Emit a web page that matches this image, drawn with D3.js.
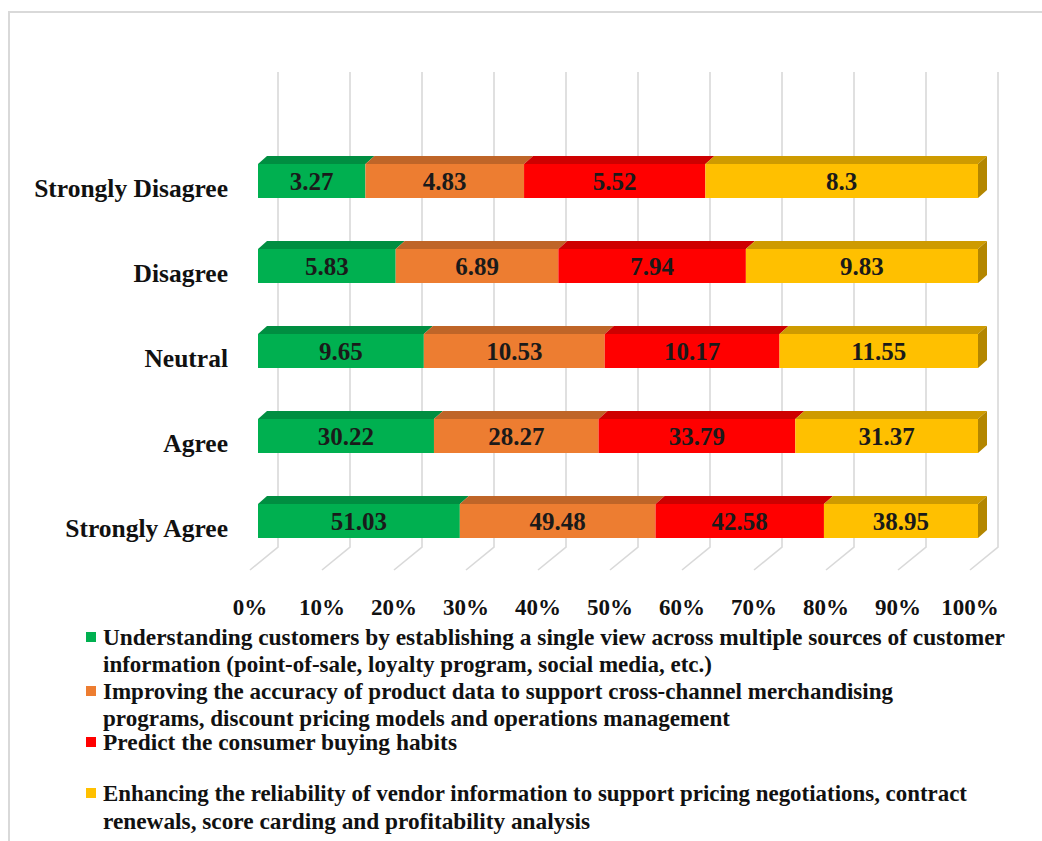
<!DOCTYPE html>
<html>
<head>
<meta charset="utf-8">
<script src="https://cdn.jsdelivr.net/npm/d3@7"></script>
<style>
  html, body { margin: 0; padding: 0; background: #fff; }
  svg { display: block; }
  text { font-family: "Liberation Serif", "Times New Roman", serif; font-weight: bold; }
</style>
</head>
<body>
<svg id="chart" width="1042" height="841"></svg>
<script>
// Response categories (top to bottom)
const categories = ["Strongly Disagree", "Disagree", "Neutral", "Agree", "Strongly Agree"];

// Series values per category (percent of respondents)
const understanding = [3.27, 5.83, 9.65, 30.22, 51.03];
const improving     = [4.83, 6.89, 10.53, 28.27, 49.48];
const predict       = [5.52, 7.94, 10.17, 33.79, 42.58];
const enhancing     = [8.3, 9.83, 11.55, 31.37, 38.95];

const seriesKeys = ["understanding", "improving", "predict", "enhancing"];
const seriesColors = ["#00B050", "#ED7D31", "#FF0000", "#FFC000"];

// Legend entries, already broken into lines
const legendLines = [
  ["Understanding customers by establishing a single view across multiple sources of customer",
   "information (point-of-sale, loyalty program, social media, etc.)"],
  ["Improving the accuracy of product data to support cross-channel merchandising",
   "programs, discount pricing models and operations management"],
  ["Predict the consumer buying habits"],
  ["Enhancing the reliability of vendor information to support pricing negotiations, contract",
   "renewals, score carding and profitability analysis"]
];

// Axis tick labels
const tickValues = [0, 0.1, 0.2, 0.3, 0.4, 0.5, 0.6, 0.7, 0.8, 0.9, 1.0];
const tickLabels = ["0%", "10%", "20%", "30%", "40%", "50%", "60%", "70%", "80%", "90%", "100%"];

// ---- build table for the stack layout ----
const rows = categories.map((c, i) => ({
  category: c,
  understanding: understanding[i],
  improving: improving[i],
  predict: predict[i],
  enhancing: enhancing[i]
}));
const stacked = d3.stack().keys(seriesKeys).offset(d3.stackOffsetExpand)(rows);

const svg = d3.select("#chart");

// frame around the figure
svg.append("rect")
  .attr("x", 9).attr("y", 12).attr("width", 1040).attr("height", 840)
  .attr("fill", "#fff").attr("stroke", "#d9d9d9").attr("stroke-width", 2);

// ---- scales ----
// x: front edge of the floor; bars and back wall are shifted by the 3D depth
const x = d3.scaleLinear().domain([0, 1]).range([250, 970]);
const y = d3.scalePoint().domain(categories).range([181, 521]);
const barH = 34;
const wall = { dx: 28, dy: 23 };      // offset from floor front edge to back wall
const barShift = 8;                    // bar front face sits slightly behind the floor edge
const barDepth = { dx: 9, dy: 8 };     // visible depth of each bar
const wallTop = 72, wallBottom = 547, floorFront = 570;

// ---- back wall gridlines and floor lines ----
const grid = svg.append("g").attr("stroke", "#d9d9d9").attr("stroke-width", 1.6).attr("fill", "none");
grid.selectAll("path").data(tickValues).join("path")
  .attr("d", t => {
    const xb = x(t) + wall.dx;
    return `M${xb},${wallTop}L${xb},${wallBottom}L${x(t)},${floorFront}`;
  });

// ---- 3D bars ----
const bx = v => x(v) + barShift;
const barsG = svg.append("g");
categories.forEach((cat, ci) => {
  const yTop = y(cat) - barH / 2;
  const g = barsG.append("g");
  stacked.forEach((layer, si) => {
    const d = layer[ci];
    const x0 = bx(d[0]), x1 = bx(d[1]);
    const base = d3.color(seriesColors[si]);
    // top face
    g.append("path")
      .attr("d", `M${x0},${yTop}L${x0 + barDepth.dx},${yTop - barDepth.dy}L${x1 + barDepth.dx},${yTop - barDepth.dy}L${x1},${yTop}Z`)
      .attr("fill", base.darker(0.6).formatHex());
    // right end face on the last segment
    if (si === stacked.length - 1) {
      g.append("path")
        .attr("d", `M${x1},${yTop}L${x1 + barDepth.dx},${yTop - barDepth.dy}L${x1 + barDepth.dx},${yTop + barH - barDepth.dy}L${x1},${yTop + barH}Z`)
        .attr("fill", base.darker(1.0).formatHex());
    }
  });
  stacked.forEach((layer, si) => {
    const d = layer[ci];
    const x0 = bx(d[0]), x1 = bx(d[1]);
    g.append("rect")
      .attr("x", x0).attr("y", yTop)
      .attr("width", x1 - x0).attr("height", barH)
      .attr("fill", seriesColors[si]);
  });
  // value labels
  stacked.forEach((layer, si) => {
    const d = layer[ci];
    g.append("text")
      .attr("x", (bx(d[0]) + bx(d[1])) / 2)
      .attr("y", y(cat) + 8.5)
      .attr("text-anchor", "middle")
      .attr("font-size", 25)
      .attr("fill", "#1a1a1a")
      .text(d.data[layer.key]);
  });
});

// ---- category labels ----
svg.append("g").selectAll("text").data(categories).join("text")
  .attr("x", 228)
  .attr("y", c => y(c) + 15.5)
  .attr("text-anchor", "end")
  .attr("font-size", 25.5)
  .attr("fill", "#111")
  .text(c => c);

// ---- x tick labels ----
svg.append("g").selectAll("text").data(tickValues).join("text")
  .attr("x", t => x(t))
  .attr("y", 615)
  .attr("text-anchor", "middle")
  .attr("font-size", 23)
  .attr("fill", "#111")
  .text((t, i) => tickLabels[i]);

// ---- legend ----
const legendX = 86, textX = 103;
const itemBaselines = [[645, 672], [699, 726], [750], [801, 829]];
const lineWidths = [[902, 609], [790, 627], [354], [864, 487]];
const legend = svg.append("g");
legendLines.forEach((lines, i) => {
  legend.append("rect")
    .attr("x", legendX).attr("y", itemBaselines[i][0] - 13)
    .attr("width", 10).attr("height", 10)
    .attr("fill", seriesColors[i]);
  lines.forEach((ln, j) => {
    legend.append("text")
      .attr("x", textX)
      .attr("y", itemBaselines[i][j])
      .attr("font-size", 23.5)
      .attr("fill", "#111")
      .attr("textLength", lineWidths[i][j])
      .attr("lengthAdjust", "spacingAndGlyphs")
      .text(ln);
  });
});
</script>
</body>
</html>
